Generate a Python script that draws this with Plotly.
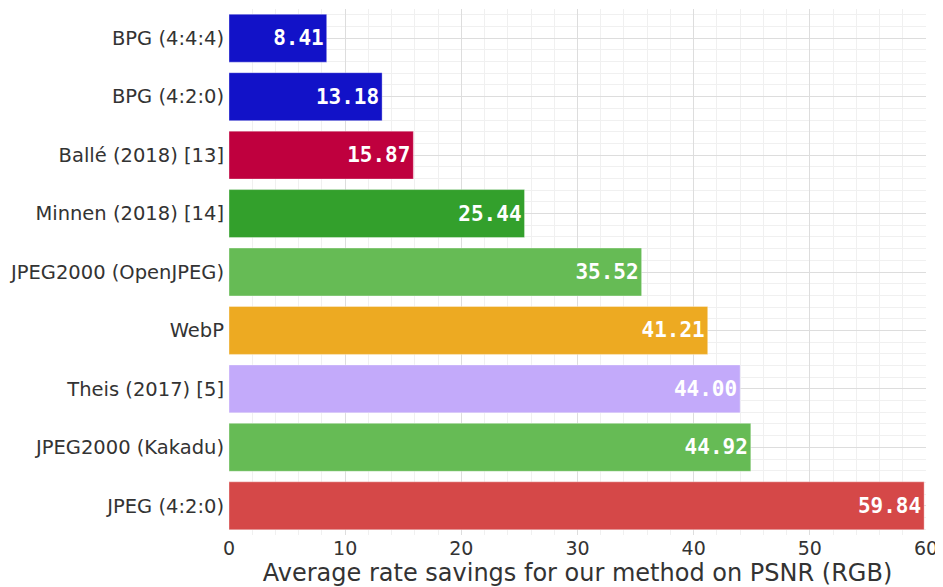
import plotly.graph_objects as go

methods = ["BPG (4:4:4)", "BPG (4:2:0)", "Ballé (2018) [13]", "Minnen (2018) [14]",
           "JPEG2000 (OpenJPEG)", "WebP", "Theis (2017) [5]", "JPEG2000 (Kakadu)", "JPEG (4:2:0)"]
savings = [8.41, 13.18, 15.87, 25.44, 35.52, 41.21, 44.00, 44.92, 59.84]
colors = ["#1212C8", "#1212C8", "#BF003E", "#33A02C", "#66BB55", "#EDAA22",
          "#C3AAFA", "#66BB55", "#D54848"]
x_ticks = [0, 10, 20, 30, 40, 50, 60]

positions = list(range(len(methods)))

fig = go.Figure(go.Bar(
    x=savings, y=positions, orientation="h",
    marker=dict(color=colors, line=dict(width=1, color="rgba(255,255,255,0.35)")),
    width=0.82,
    text=[f"{v:.2f}" for v in savings],
    textposition="inside", insidetextanchor="end",
    textfont=dict(family="DejaVu Sans Mono", size=21, color="white", weight="bold"),
    textangle=0, cliponaxis=False,
))

fig.update_layout(
    width=935, height=579,
    margin=dict(l=221, r=17, t=1, b=52),
    plot_bgcolor="white", paper_bgcolor="white",
    font=dict(family="DejaVu Sans", color="#333333"),
    showlegend=False,
    xaxis=dict(
        range=[0, 60], tickvals=x_ticks, ticktext=[str(t) for t in x_ticks],
        showgrid=True, gridcolor="#DDDDDD", gridwidth=1.2, zeroline=False,
        tickfont=dict(size=19, color="#333333"), ticks="", automargin=False,
        title=dict(text="Average rate savings for our method on PSNR (RGB)",
                   font=dict(size=24, color="#333333"), standoff=0),
        minor=dict(dtick=2, tick0=0, showgrid=True, gridcolor="#F0F0F0", gridwidth=1),
    ),
    yaxis=dict(
        range=[8.5, -0.5], tickvals=positions, ticktext=methods,
        showgrid=True, gridcolor="#DDDDDD", gridwidth=1.2, zeroline=False, automargin=False,
        tickfont=dict(size=19.5, color="#333333"), ticks="", ticklabelstandoff=4,
        minor=dict(dtick=0.2, tick0=0, showgrid=True, gridcolor="#F0F0F0", gridwidth=1),
    ),
)

fig.write_html("out.html")
